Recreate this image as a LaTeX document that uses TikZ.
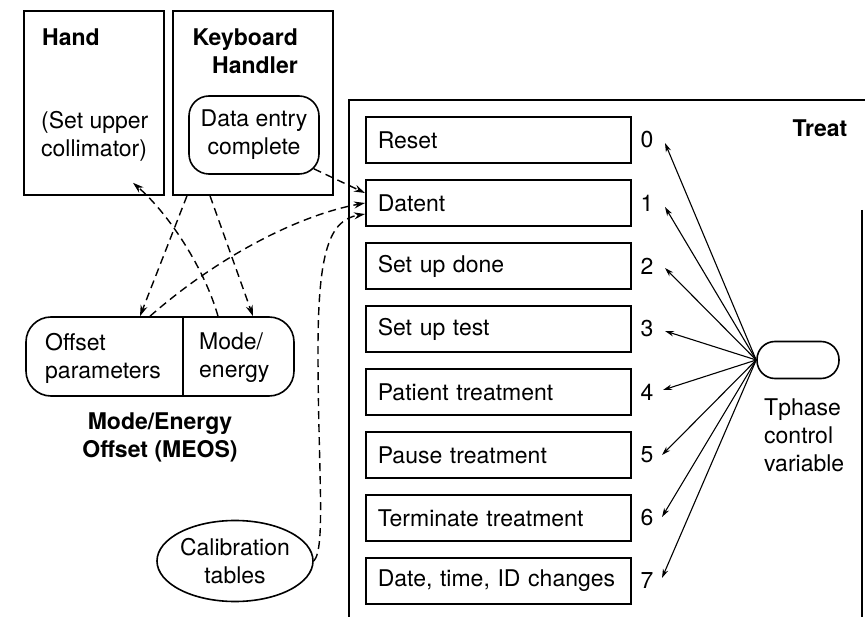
\documentclass[tikz,border=0pt]{standalone}
\usepackage{fontspec}
\setmainfont{TeX Gyre Heros}
\usetikzlibrary{arrows.meta,shapes.geometric}
\begin{document}
\begin{tikzpicture}[x=1pt,y=-1pt,
  font=\fontsize{23}{28}\selectfont,
  frame/.style={draw,line width=1.6pt,inner sep=0pt},
  stepbox/.style={draw,line width=1.6pt,anchor=west,minimum width=265pt,
    minimum height=46pt,text width=241pt,inner xsep=12pt,inner ysep=0pt,align=left},
  num/.style={inner sep=0pt},
  lbl/.style={inner sep=0pt,align=left},
  arr/.style={line width=1.1pt,-{Stealth[length=9pt,width=5.5pt]}},
  dasharr/.style={line width=1.4pt,dash pattern=on 8pt off 5pt,-{Stealth[length=11pt,width=7pt]}}]
\clip (0,0) rectangle (865,617);
\fill[white] (0,0) rectangle (865,617);

% Hand
\node[frame,minimum width=140pt,minimum height=184pt] (hand) at (94,103) {};
\node[lbl,anchor=west,font=\fontsize{23}{28}\selectfont\bfseries] (handt) at (42,37) {Hand};
\node[lbl,anchor=west] (handc) at (41,136) {(Set upper\\collimator)};

% Keyboard handler
\node[frame,minimum width=160pt,minimum height=184pt] (kb) at (253,103) {};
\node[inner sep=0pt,align=right,anchor=east,font=\fontsize{23}{28}\selectfont\bfseries] (kbt) at (298,51) {Keyboard\\Handler};
\node[frame,rounded corners=20pt,minimum width=130pt,minimum height=78pt,align=center] (dec) at (254,135) {Data entry\\complete};

% MEOS
\node[frame,rounded corners=25pt,minimum width=268pt,minimum height=79pt] (meos) at (160,356.5) {};
\draw[line width=1.6pt] (meos.north -| 183,0) -- (meos.south -| 183,0);
\node[lbl,anchor=west] (off) at (45,358) {Offset\\parameters};
\node[lbl,anchor=west] (mode) at (199,358) {Mode/\\energy};
\node[inner sep=0pt,align=center,font=\fontsize{23}{28}\selectfont\bfseries] (meost) at (160,437) {Mode/Energy\\Offset (MEOS)};

% Calibration tables
\node[draw,line width=1.6pt,ellipse,minimum width=156pt,minimum height=81pt,inner sep=0pt,align=center] (cal) at (235,561) {Calibration\\tables};

% Treat frame
\draw[line width=1.6pt] (349,640) -- (349,100) -- (870,100);
\draw[line width=1.6pt] (862,210) -- (862,640);
\node[inner sep=0pt,font=\fontsize{23}{28}\selectfont\bfseries] (treat) at (820,128) {Treat};

% Tphase
\node[draw,line width=1.6pt,rounded corners=18pt,minimum width=82pt,minimum height=37pt,inner sep=0pt] (tp) at (798,360) {};
\node[lbl,anchor=west] (tpt) at (764,435) {Tphase\\control\\variable};

% Treat steps
\foreach \i/\t in {0/Reset,1/Datent,2/Set up done,3/Set up test,4/Patient treatment,5/Pause treatment,6/Terminate treatment,7/{Date, time, ID changes}}{
  \node[stepbox] (b\i) at (365,140+63*\i) {\t};
  \node[num] (n\i) at (647,140+63*\i) {\i};
}

% Arrow tips near numbers
\coordinate (t0) at (665,143);
\coordinate (t1) at (665,207);
\coordinate (t2) at (665,268);
\coordinate (t3) at (665,331);
\coordinate (t4) at (663,390);
\coordinate (t5) at (662,455);
\coordinate (t6) at (662,517);
\coordinate (t7) at (662,578);
\foreach \i in {0,...,7}{\draw[arr] (tp.west) -- (t\i);}

% Dashed connectors
\draw[dasharr] ([xshift=-6pt,yshift=6pt]dec.south east) -- ([yshift=10pt]b1.west);
\draw[dasharr] (meos.north -| 150,0) .. controls (220,255) and (300,215) .. (b1.west);
\draw[dasharr] (cal.east) .. controls (326,548) and (318,470) .. (318,350) .. controls (318,250) and (330,220) .. ([yshift=-11pt]b1.west);
\draw[dasharr] ([xshift=-66pt]kb.south) -- (meos.north -| 140,0);
\draw[dasharr] ([xshift=-43pt]kb.south) -- (meos.north -| 253,0);
\draw[dasharr] (meos.north -| 218,0) .. controls (205,270) and (170,215) .. ([xshift=39pt,yshift=13pt]hand.south);
\end{tikzpicture}
\end{document}
